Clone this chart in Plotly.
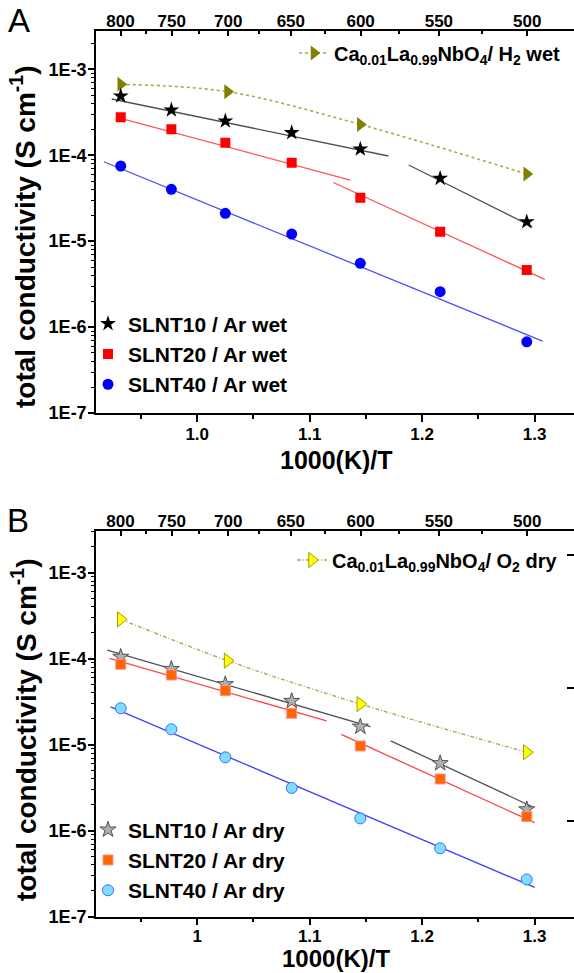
import plotly.graph_objects as go

# ---------------- data ----------------
x_slnt = [0.932, 0.977, 1.025, 1.084, 1.145, 1.216, 1.293]   # 1000/T (K^-1)
x_ca = [0.932, 1.027, 1.145, 1.293]

# Panel A : wet atmospheres (S cm^-1)
a_ca_h2 = [6.68e-4, 5.48e-4, 2.28e-4, 6.04e-5]
a_slnt10 = [4.89e-4, 3.36e-4, 2.50e-4, 1.83e-4, 1.18e-4, 5.38e-5, 1.68e-5]
a_slnt20 = [2.76e-4, 2.00e-4, 1.40e-4, 8.18e-5, 3.20e-5, 1.29e-5, 4.61e-6]
a_slnt40 = [7.49e-5, 4.01e-5, 2.11e-5, 1.21e-5, 5.52e-6, 2.58e-6, 6.74e-7]

# Panel A Arrhenius fit segments (x pairs, sigma pairs)
a_fit10_x = [[0.924, 1.170], [1.188, 1.298]]
a_fit10_y = [[4.51e-4, 9.79e-5], [7.69e-5, 1.47e-5]]
a_fit20_x = [[0.932, 1.136], [1.121, 1.309]]
a_fit20_y = [[2.69e-4, 5.14e-5], [4.81e-5, 3.59e-6]]
a_fit40_x = [[0.917, 1.307]]
a_fit40_y = [[8.39e-5, 6.87e-7]]

# Panel B : dry atmospheres (S cm^-1)
b_ca_o2 = [2.87e-4, 9.48e-5, 2.97e-5, 8.16e-6]
b_slnt10 = [1.05e-4, 7.59e-5, 5.04e-5, 3.22e-5, 1.62e-5, 6.08e-6, 1.77e-6]
b_slnt20 = [8.61e-5, 6.46e-5, 4.25e-5, 2.32e-5, 9.66e-6, 3.99e-6, 1.46e-6]
b_slnt40 = [2.65e-5, 1.51e-5, 7.13e-6, 3.14e-6, 1.39e-6, 6.24e-7, 2.71e-7]

b_fit10_x = [[0.920, 1.154], [1.172, 1.298]]
b_fit10_y = [[1.26e-4, 1.62e-5], [1.11e-5, 1.90e-6]]
b_fit20_x = [[0.922, 1.115], [1.128, 1.300]]
b_fit20_y = [[1.01e-4, 1.89e-5], [1.32e-5, 1.24e-6]]
b_fit40_x = [[0.923, 1.300]]
b_fit40_y = [[2.75e-5, 2.19e-7]]

# tick labels
top_temps_C = [800, 750, 700, 650, 600, 550, 500]
top_minor_C = [775, 725, 675, 625, 575, 525]
y_tick_vals = [1e-7, 1e-6, 1e-5, 1e-4, 1e-3]
y_tick_text = ["1E-7", "1E-6", "1E-5", "1E-4", "1E-3"]

labels_a = ["SLNT10 / Ar wet", "SLNT20 / Ar wet", "SLNT40 / Ar wet"]
labels_b = ["SLNT10 / Ar dry", "SLNT20 / Ar dry", "SLNT40 / Ar dry"]
label_ca_a = "Ca<sub>0.01</sub>La<sub>0.99</sub>NbO<sub>4</sub>/ H<sub>2</sub> wet"
label_ca_b = "Ca<sub>0.01</sub>La<sub>0.99</sub>NbO<sub>4</sub>/ O<sub>2</sub> dry"

# ---------------- figure ----------------
W, H = 574, 973
FONT = "Liberation Sans, Arial, Helvetica, sans-serif"
fig = go.Figure()


def add_fits(xs, ys, color, xa, ya):
    for sx, sy in zip(xs, ys):
        fig.add_trace(go.Scatter(x=sx, y=sy, mode="lines", xaxis=xa, yaxis=ya,
                                 line=dict(color=color, width=1.3),
                                 showlegend=False, hoverinfo="skip"))


# Panel A
add_fits(a_fit10_x, a_fit10_y, "#505050", "x", "y")
add_fits(a_fit20_x, a_fit20_y, "#FF5555", "x", "y")
add_fits(a_fit40_x, a_fit40_y, "#5050FF", "x", "y")
fig.add_trace(go.Scatter(x=x_ca, y=a_ca_h2, mode="lines+markers", line_shape="spline",
                         line=dict(color="#A8A850", width=1.6, dash="dot"),
                         marker=dict(symbol="triangle-right", size=13, color="#808000"),
                         name=label_ca_a, legend="legend2", xaxis="x", yaxis="y"))
fig.add_trace(go.Scatter(x=x_slnt, y=a_slnt10, mode="markers", name=labels_a[0],
                         marker=dict(symbol="star", size=12, color="black"),
                         legend="legend", xaxis="x", yaxis="y"))
fig.add_trace(go.Scatter(x=x_slnt, y=a_slnt20, mode="markers", name=labels_a[1],
                         marker=dict(symbol="square", size=10, color="#FF0000"),
                         legend="legend", xaxis="x", yaxis="y"))
fig.add_trace(go.Scatter(x=x_slnt, y=a_slnt40, mode="markers", name=labels_a[2],
                         marker=dict(symbol="circle", size=11, color="#0000FF"),
                         legend="legend", xaxis="x", yaxis="y"))

# Panel B
add_fits(b_fit10_x, b_fit10_y, "#505050", "x2", "y2")
add_fits(b_fit20_x, b_fit20_y, "#FF4444", "x2", "y2")
add_fits(b_fit40_x, b_fit40_y, "#4040FF", "x2", "y2")
fig.add_trace(go.Scatter(x=x_ca, y=b_ca_o2, mode="lines+markers", line_shape="spline",
                         line=dict(color="#A8A860", width=1.4, dash="4px,2px,1px,2px"),
                         marker=dict(symbol="triangle-right", size=13, color="#FFFF00",
                                     line=dict(color="#A0A000", width=1)),
                         name=label_ca_b, legend="legend4", xaxis="x2", yaxis="y2"))
fig.add_trace(go.Scatter(x=x_slnt, y=b_slnt10, mode="markers", name=labels_b[0],
                         marker=dict(symbol="star", size=12, color="#B0B0B0",
                                     line=dict(color="#505050", width=1)),
                         legend="legend3", xaxis="x2", yaxis="y2"))
fig.add_trace(go.Scatter(x=x_slnt, y=b_slnt20, mode="markers", name=labels_b[1],
                         marker=dict(symbol="square", size=10, color="#FF6600",
                                     line=dict(color="#FF9090", width=1)),
                         legend="legend3", xaxis="x2", yaxis="y2"))
fig.add_trace(go.Scatter(x=x_slnt, y=b_slnt40, mode="markers", name=labels_b[2],
                         marker=dict(symbol="circle", size=11, color="#80DDFF",
                                     line=dict(color="#3070FF", width=1)),
                         legend="legend3", xaxis="x2", yaxis="y2"))

# ---------------- axes ----------------
XR = [0.910, 1.335]
XDOM = [96 / W, 1.0]
YDOM_A = [1 - 413 / H, 1 - 30.7 / H]
YDOM_B = [1 - 916.7 / H, 1 - 530.7 / H]

tickfont = dict(family=FONT, size=17, color="black", weight="bold")
minor_y = [k * 10.0 ** n for n in range(-7, -2) for k in range(2, 10)]
top_vals = [1000.0 / (t + 273.15) for t in top_temps_C]
top_minor = [1000.0 / (t + 273.15) for t in top_minor_C]


def bottom_axis(domain_anchor, fmt, standoff):
    return dict(domain=XDOM, range=XR, anchor=domain_anchor, showline=True,
                linecolor="black", linewidth=1.5, ticks="outside", ticklen=7,
                tickwidth=1.5, tickcolor="black", dtick=0.1, tick0=1.0,
                tickformat=fmt, tickfont=tickfont, showgrid=False, zeroline=False,
                ticklabelstandoff=standoff,
                minor=dict(dtick=0.05, tick0=1.0, ticks="outside", ticklen=4,
                           tickwidth=1.5, tickcolor="black", showgrid=False),
                automargin=False)


def top_axis(over, anchor):
    return dict(overlaying=over, anchor=anchor, side="top", range=XR, showline=True,
                linecolor="black", linewidth=1.5, ticks="inside", ticklen=6,
                tickwidth=1.5, tickcolor="black", tickmode="array",
                tickvals=top_vals, ticktext=[str(t) for t in top_temps_C],
                tickfont=tickfont, showgrid=False, zeroline=False,
                ticklabelstandoff=-5,
                minor=dict(tickmode="array", tickvals=top_minor, ticks="inside",
                           ticklen=4, tickwidth=1.5, tickcolor="black", showgrid=False),
                automargin=False)


def left_axis(domain, anchor, top):
    return dict(domain=domain, anchor=anchor, type="log", range=[-7, top],
                showline=True, linecolor="black", linewidth=1.5, ticks="outside",
                ticklen=6, tickwidth=1.5, tickcolor="black", tickmode="array",
                tickvals=y_tick_vals, ticktext=y_tick_text,
                tickfont=dict(family=FONT, size=18, color="black", weight="bold"),
                showgrid=False, zeroline=False, ticklabelstandoff=-2,
                minor=dict(tickmode="array", tickvals=minor_y, ticks="outside",
                           ticklen=3, tickwidth=1, tickcolor="black", showgrid=False),
                automargin=False)


legfont = dict(family=FONT, size=21, color="black", weight="bold")
cafont = dict(family=FONT, size=20, color="black", weight="bold")
fig.update_layout(
    width=W, height=H, margin=dict(l=0, r=0, t=0, b=0),
    paper_bgcolor="white", plot_bgcolor="white",
    font=dict(family=FONT, color="black"),
    xaxis=bottom_axis("y", ".1f", -2),
    yaxis=left_axis(YDOM_A, "x", -2.551),
    xaxis3=top_axis("x", "y"),
    xaxis2=bottom_axis("y2", "", -4),
    yaxis2=left_axis(YDOM_B, "x2", -2.512),
    xaxis4=top_axis("x2", "y2"),
    yaxis3=dict(overlaying="y2", anchor="x2", side="right", range=[0, 1],
                showline=False, ticks="inside", ticklen=7, tickwidth=1.5,
                tickcolor="black", tickmode="array", tickvals=[0.248, 0.5925, 0.937],
                showticklabels=False, showgrid=False, zeroline=False, automargin=False),
    legend=dict(x=88 / W, xanchor="left", y=1 - 354 / H, yanchor="middle",
                font=legfont, bgcolor="rgba(0,0,0,0)", borderwidth=0),
    legend2=dict(x=294 / W, xanchor="left", y=1 - 53 / H, yanchor="middle",
                 font=cafont, bgcolor="rgba(0,0,0,0)", borderwidth=0),
    legend3=dict(x=88 / W, xanchor="left", y=1 - 860 / H, yanchor="middle",
                 font=legfont, bgcolor="rgba(0,0,0,0)", borderwidth=0),
    legend4=dict(x=292 / W, xanchor="left", y=1 - 560 / H, yanchor="middle",
                 font=cafont, bgcolor="rgba(0,0,0,0)", borderwidth=0),
)

# invisible anchors so the overlay axes are drawn
fig.add_trace(go.Scatter(x=[], y=[], xaxis="x3", yaxis="y", showlegend=False))
fig.add_trace(go.Scatter(x=[], y=[], xaxis="x4", yaxis="y2", showlegend=False))
fig.add_trace(go.Scatter(x=[], y=[], xaxis="x2", yaxis="y3", showlegend=False))

ann_font_title = dict(family=FONT, size=25, color="black", weight="bold")
ann_font_title_b = dict(family=FONT, size=24, color="black", weight="bold")
ann_font_ytitle = dict(family=FONT, size=28, color="black", weight="bold")


def ann(text, px, py, font, angle=0):
    fig.add_annotation(text=text, x=px / W, y=1 - py / H, xref="paper", yref="paper",
                       xanchor="center", yanchor="middle", showarrow=False,
                       textangle=angle, font=font)


ann("A", 19, 21, dict(family=FONT, size=33, color="black"))
ann("B", 18, 520, dict(family=FONT, size=33, color="black"))
ytitle = "total conductivity (S cm<sup>-1</sup>)"
ann(ytitle, 23, 237, ann_font_ytitle, -90)
ann(ytitle, 24, 730, ann_font_ytitle, -90)
ann("1000(K)/T", 336, 460, ann_font_title)
ann("1000(K)/T", 336, 958, ann_font_title_b)

fig.write_html("out.html", config={"displayModeBar": False},
               post_script="document.body.style.margin='0px';")
